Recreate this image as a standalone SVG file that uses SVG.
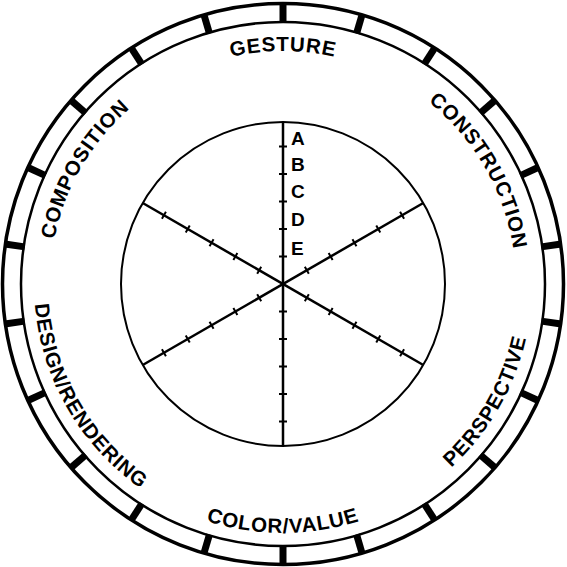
<svg xmlns="http://www.w3.org/2000/svg" xmlns:xlink="http://www.w3.org/1999/xlink" width="567" height="567" viewBox="0 0 567 567">
<style>
.ring{fill:none;stroke:#000}
.tick{stroke:#000;stroke-width:7}
.sp{stroke:#000;stroke-width:2.5;fill:none}
.st{stroke:#000;stroke-width:2}
.lbl{font-family:"Liberation Sans",Arial,sans-serif;font-weight:bold;font-size:20.5px;letter-spacing:0.8px;fill:#000}
.let{font-family:"Liberation Sans",Arial,sans-serif;font-weight:bold;font-size:19px;fill:#000}
</style>
<defs>
<path id="pGesture" d="M50.89,263.69 A233,233 0 0 1 515.11,263.69"/>
<path id="pConstruction" d="M184.53,72.83 A233,233 0 0 1 416.64,474.86"/>
<path id="pComposition" d="M149.36,474.86 A233,233 0 0 1 381.47,72.83"/>
<path id="pColor" d="M34.95,305.70 A249,249 0 0 0 531.05,305.70"/>
<path id="pPerspective" d="M177.77,509.67 A249,249 0 0 0 425.82,80.03"/>
<path id="pDesign" d="M140.18,80.03 A249,249 0 0 0 388.23,509.67"/>
<line id="bt" x1="283" y1="3" x2="283" y2="23" class="tick"/>
<g id="spoke">
<line x1="283" y1="122" x2="283" y2="446" class="sp"/>
<path class="st" d="M279,256.5H287M279,229H287M279,201.5H287M279,174H287M279,146.5H287M279,311.5H287M279,339H287M279,366.5H287M279,394H287M279,421.5H287"/>
</g>
</defs>
<g id="wheel">
<circle cx="283" cy="284" r="280.5" class="ring" stroke-width="3.5"/>
<circle cx="283" cy="284" r="262" class="ring" stroke-width="2.5"/>
<g id="band-ticks">
<use xlink:href="#bt"/>
<use xlink:href="#bt" transform="rotate(16.3636 283 284)"/>
<use xlink:href="#bt" transform="rotate(32.7273 283 284)"/>
<use xlink:href="#bt" transform="rotate(49.0909 283 284)"/>
<use xlink:href="#bt" transform="rotate(65.4545 283 284)"/>
<use xlink:href="#bt" transform="rotate(81.8182 283 284)"/>
<use xlink:href="#bt" transform="rotate(98.1818 283 284)"/>
<use xlink:href="#bt" transform="rotate(114.5455 283 284)"/>
<use xlink:href="#bt" transform="rotate(130.9091 283 284)"/>
<use xlink:href="#bt" transform="rotate(147.2727 283 284)"/>
<use xlink:href="#bt" transform="rotate(163.6364 283 284)"/>
<use xlink:href="#bt" transform="rotate(180 283 284)"/>
<use xlink:href="#bt" transform="rotate(196.3636 283 284)"/>
<use xlink:href="#bt" transform="rotate(212.7273 283 284)"/>
<use xlink:href="#bt" transform="rotate(229.0909 283 284)"/>
<use xlink:href="#bt" transform="rotate(245.4545 283 284)"/>
<use xlink:href="#bt" transform="rotate(261.8182 283 284)"/>
<use xlink:href="#bt" transform="rotate(278.1818 283 284)"/>
<use xlink:href="#bt" transform="rotate(294.5455 283 284)"/>
<use xlink:href="#bt" transform="rotate(310.9091 283 284)"/>
<use xlink:href="#bt" transform="rotate(327.2727 283 284)"/>
<use xlink:href="#bt" transform="rotate(343.6364 283 284)"/>
</g>
</g>
<g id="labels">
<text class="lbl"><textPath xlink:href="#pGesture" startOffset="50%" text-anchor="middle">GESTURE</textPath></text>
<text class="lbl"><textPath xlink:href="#pConstruction" startOffset="50%" text-anchor="middle">CONSTRUCTION</textPath></text>
<text class="lbl"><textPath xlink:href="#pComposition" startOffset="50%" text-anchor="middle">COMPOSITION</textPath></text>
<text class="lbl"><textPath xlink:href="#pColor" startOffset="50%" text-anchor="middle">COLOR/VALUE</textPath></text>
<text class="lbl"><textPath xlink:href="#pPerspective" startOffset="50%" text-anchor="middle">PERSPECTIVE</textPath></text>
<text class="lbl"><textPath xlink:href="#pDesign" startOffset="50%" text-anchor="middle">DESIGN/RENDERING</textPath></text>
</g>
<g id="inner">
<circle cx="283" cy="284" r="162" fill="none" stroke="#000" stroke-width="2"/>
</g>
<g id="connectors">
<use xlink:href="#spoke"/>
<use xlink:href="#spoke" transform="rotate(60 283 284)"/>
<use xlink:href="#spoke" transform="rotate(-60 283 284)"/>
</g>
<g id="scale-letters">
<text class="let" x="291" y="145">A</text>
<text class="let" x="291" y="171">B</text>
<text class="let" x="291" y="198">C</text>
<text class="let" x="291" y="226">D</text>
<text class="let" x="291" y="255">E</text>
</g>
</svg>
